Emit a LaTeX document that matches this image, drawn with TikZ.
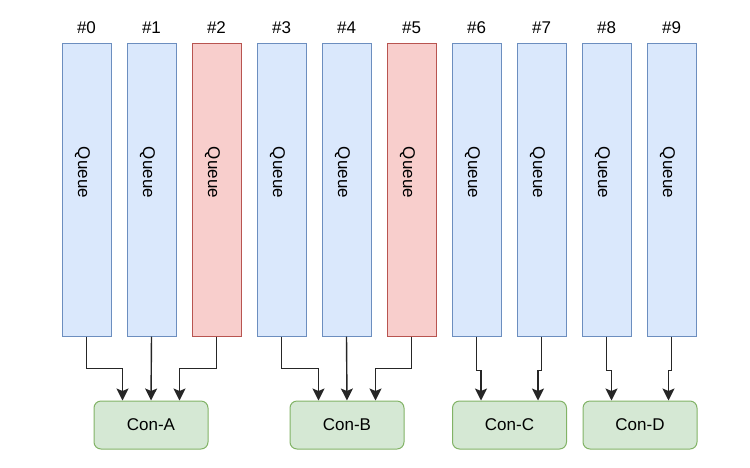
\documentclass[tikz,border=0pt]{standalone}
\usepackage{fontspec}
\setmainfont{Liberation Sans}
\usetikzlibrary{arrows.meta}

\definecolor{qfill}{HTML}{DAE8FC}
\definecolor{qline}{HTML}{6C8EBF}
\definecolor{rfill}{HTML}{F8CECC}
\definecolor{rline}{HTML}{B85450}
\definecolor{cfill}{HTML}{D5E8D4}
\definecolor{cline}{HTML}{82B366}

\tikzset{
  queue/.style={draw=qline,fill=qfill,line width=1pt,minimum width=49pt,minimum height=293pt,
    inner sep=0pt,font=\fontsize{17}{20}\selectfont},
  hot/.style={draw=rline,fill=rfill},
  con/.style={draw=cline,fill=cfill,line width=1pt,rounded corners=7pt,minimum width=114pt,
    minimum height=48pt,font=\fontsize{17}{20}\selectfont},
  arr/.style={draw=black!85,line width=1.4pt,-{Stealth[length=12pt,width=12pt,inset=2.5pt]}}
}
\newcommand{\qtext}{\kern-8pt\raisebox{17pt}[\height][\depth]{\rotatebox{-90}{Queue}}}

\begin{document}
\begin{tikzpicture}[x=1pt,y=-1pt]
    \useasboundingbox (0,0) rectangle (750,467);
    % the queues
    \foreach \i in {0,...,9}{
      \ifnum\i=2 \def\qextra{hot}\else\ifnum\i=5 \def\qextra{hot}\else\def\qextra{}\fi\fi
      \node[queue,\qextra,label={[label distance=5pt,font=\fontsize{17}{20}\selectfont]above:\#\i}]
        (q\i) at (86.5+65*\i,189.5) {\qtext};
    }
    % consumers
    \node[con] (conA) at (151,425) {Con-A};
    \node[con] (conB) at (347,425) {Con-B};
    \node[con] (conC) at (509.5,425) {Con-C};
    \node[con] (conD) at (640,425) {Con-D};
    % links
    \draw[arr] (q0.south) -- ++(0,32) -| ([xshift=-28.5pt]conA.north);
    \draw[arr] (q1.south) -- (conA.north);
    \draw[arr] (q2.south) -- ++(0,32) -| ([xshift=28.5pt]conA.north);
    \draw[arr] (q3.south) -- ++(0,32) -| ([xshift=-28.5pt]conB.north);
    \draw[arr] (q4.south) -- (conB.north);
    \draw[arr] (q5.south) -- ++(0,32) -| ([xshift=28.5pt]conB.north);
    \draw[arr] (q6.south) -- ++(0,34) -| ([xshift=-28.5pt]conC.north);
    \draw[arr] (q7.south) -- ++(0,34) -| ([xshift=28.5pt]conC.north);
    \draw[arr] (q8.south) -- ++(0,34) -| ([xshift=-28.5pt]conD.north);
    \draw[arr] (q9.south) -- ++(0,34) -| ([xshift=28.5pt]conD.north);
\end{tikzpicture}
\end{document}
